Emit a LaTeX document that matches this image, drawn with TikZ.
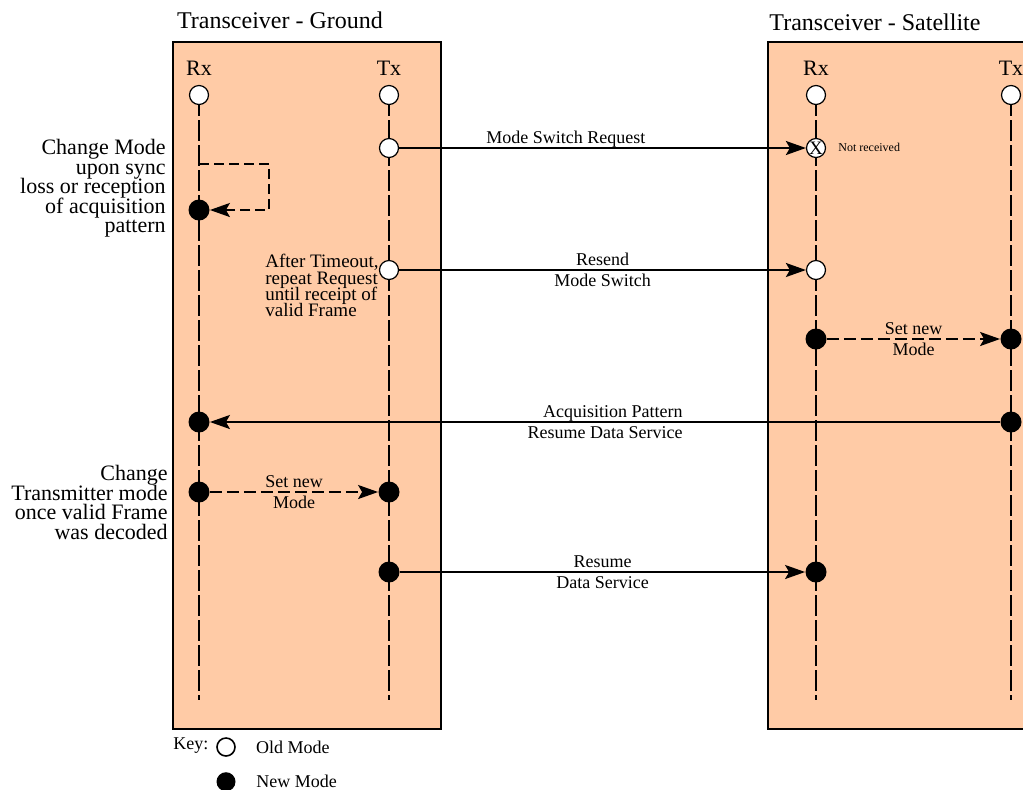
\documentclass[tikz,border=0pt]{standalone}
\usepackage{fontspec}
\setmainfont{Liberation Serif}
\usetikzlibrary{arrows.meta,positioning,calc}
\definecolor{LinkPeach}{HTML}{FFCBA6}
\newcommand\tightlines{\lineskiplimit=-10pt\lineskip=0pt\relax}
\tikzset{
  unitbox/.style={draw=black, line width=1pt, fill=LinkPeach, anchor=north west, inner sep=0pt},
  title/.style={font=\fontsize{12}{14}\selectfont, inner sep=0pt},
  portname/.style={font=\fontsize{11}{13}\selectfont, inner sep=0pt},
  oldmode/.style={circle, draw=black, line width=0.6pt, fill=white,
    minimum size=9.5pt, inner sep=0pt},
  newmode/.style={circle, fill=black, minimum size=10.5pt, inner sep=0pt},
  lifeline/.style={line width=0.9pt, dash pattern=on 10.5pt off 2pt},
  wire/.style={-{Stealth[length=10pt,width=7pt,inset=2pt]}, line width=1pt},
  dashwire/.style={wire, dash pattern=on 6pt off 2.5pt},
  msg/.style={font=\fontsize{9}{10}\selectfont, inner sep=0pt},
  over/.style={msg, anchor=base, yshift=2.3pt},
  under/.style={msg, anchor=base, yshift=-8.3pt},
  note/.style={font=\fontsize{11}{9.75}\selectfont\tightlines,
    align=right, inner sep=0pt, anchor=north east},
  smallnote/.style={font=\fontsize{9.5}{8.15}\selectfont\tightlines,
    align=left, inner sep=0pt, anchor=north west},
  keytext/.style={font=\fontsize{9}{11}\selectfont, inner sep=0pt, anchor=west}
}
\begin{document}
\begin{tikzpicture}[x=0.5pt, y=-0.5pt]
  \useasboundingbox (0,0) rectangle (1023,789);
  % the two transceivers
  \node[unitbox, minimum width=134pt, minimum height=343.5pt] (ground) at (172,41) {};
  \node[unitbox, minimum width=140pt, minimum height=343.5pt] (satellite) at (767,41) {};
  \node[title] (groundtitle) at (280,20) {Transceiver - Ground};
  \node[title] (sattitle) at (875,22) {Transceiver - Satellite};
  % lifelines
  \foreach \name/\x/\port in {grx/199/Rx, gtx/389/Tx, srx/816/Rx, stx/1011/Tx} {
    \coordinate (\name top) at (\x,95);
    \coordinate (\name end) at (\x,700);
    \draw[lifeline] (\name top) -- (\name end);
    \node[portname] (\name label) at (\x,68) {\port};
    \node[oldmode] (\name0) at (\name top) {};
  }
  % mode switch request, lost
  \node[oldmode] (gtx1) at (389,148) {};
  \node[oldmode] (srx1) at (816,148) {\fontsize{9.5}{9.5}\selectfont X};
  \node[font=\fontsize{6}{7}\selectfont, inner sep=0pt, anchor=west] (lost) at (838,147) {Not received};
  \draw[wire] (gtx1) -- node[over, pos=0.41] {Mode Switch Request} (srx1);
  % ground rx changes mode by itself
  \coordinate (syncloss) at (199,164);
  \node[newmode] (grx1) at (199,210) {};
  \draw[wire, dash pattern=on 5pt off 2.5pt] (syncloss) -- ++(70,0) |- (grx1);
  \node[note] (syncnote) at (166,139) {Change Mode\\upon sync\\loss or reception\\of acquisition\\pattern};
  % resend
  \node[oldmode] (gtx2) at (389,270) {};
  \node[oldmode] (srx2) at (816,270) {};
  \draw[wire] (gtx2) -- node[over] {Resend} node[under] {Mode Switch} (srx2);
  \node[smallnote] (timeoutnote) at (265,254) {After Timeout,\\repeat Request\\until receipt of\\valid Frame};
  % satellite switches
  \node[newmode] (srx3) at (816,339) {};
  \node[newmode] (stx1) at (1011,339) {};
  \draw[dashwire] (srx3) -- node[over] {Set new} node[under] {Mode} (stx1);
  \node[newmode] (stx2) at (1011,422) {};
  \node[newmode] (grx2) at (199,422) {};
  \draw[wire] (stx2) -- node[over, pos=0.49] {Acquisition Pattern} node[under] {Resume Data Service} (grx2);
  % ground switches
  \node[newmode] (grx3) at (199,492) {};
  \node[newmode] (gtx3) at (389,492) {};
  \draw[dashwire] (grx3) -- node[over] {Set new} node[under] {Mode} (gtx3);
  \node[note] (txnote) at (168,465) {Change\\Transmitter mode\\once valid Frame\\was decoded};
  \node[newmode] (gtx4) at (389,572) {};
  \node[newmode] (srx4) at (816,572) {};
  \draw[wire] (gtx4) -- node[over] {Resume} node[under] {Data Service} (srx4);
  % key
  \node[keytext] (keylabel) at (173,746) {Key:};
  \node[oldmode, minimum size=9pt, line width=0.8pt] (keyold) at (226,747) {};
  \node[keytext, right=10pt of keyold] (keyoldtext) {Old Mode};
  \node[newmode, minimum size=9.5pt, below=7.5pt of keyold] (keynew) {};
  \node[keytext, right=10pt of keynew] (keynewtext) {New Mode};
\end{tikzpicture}
\end{document}
